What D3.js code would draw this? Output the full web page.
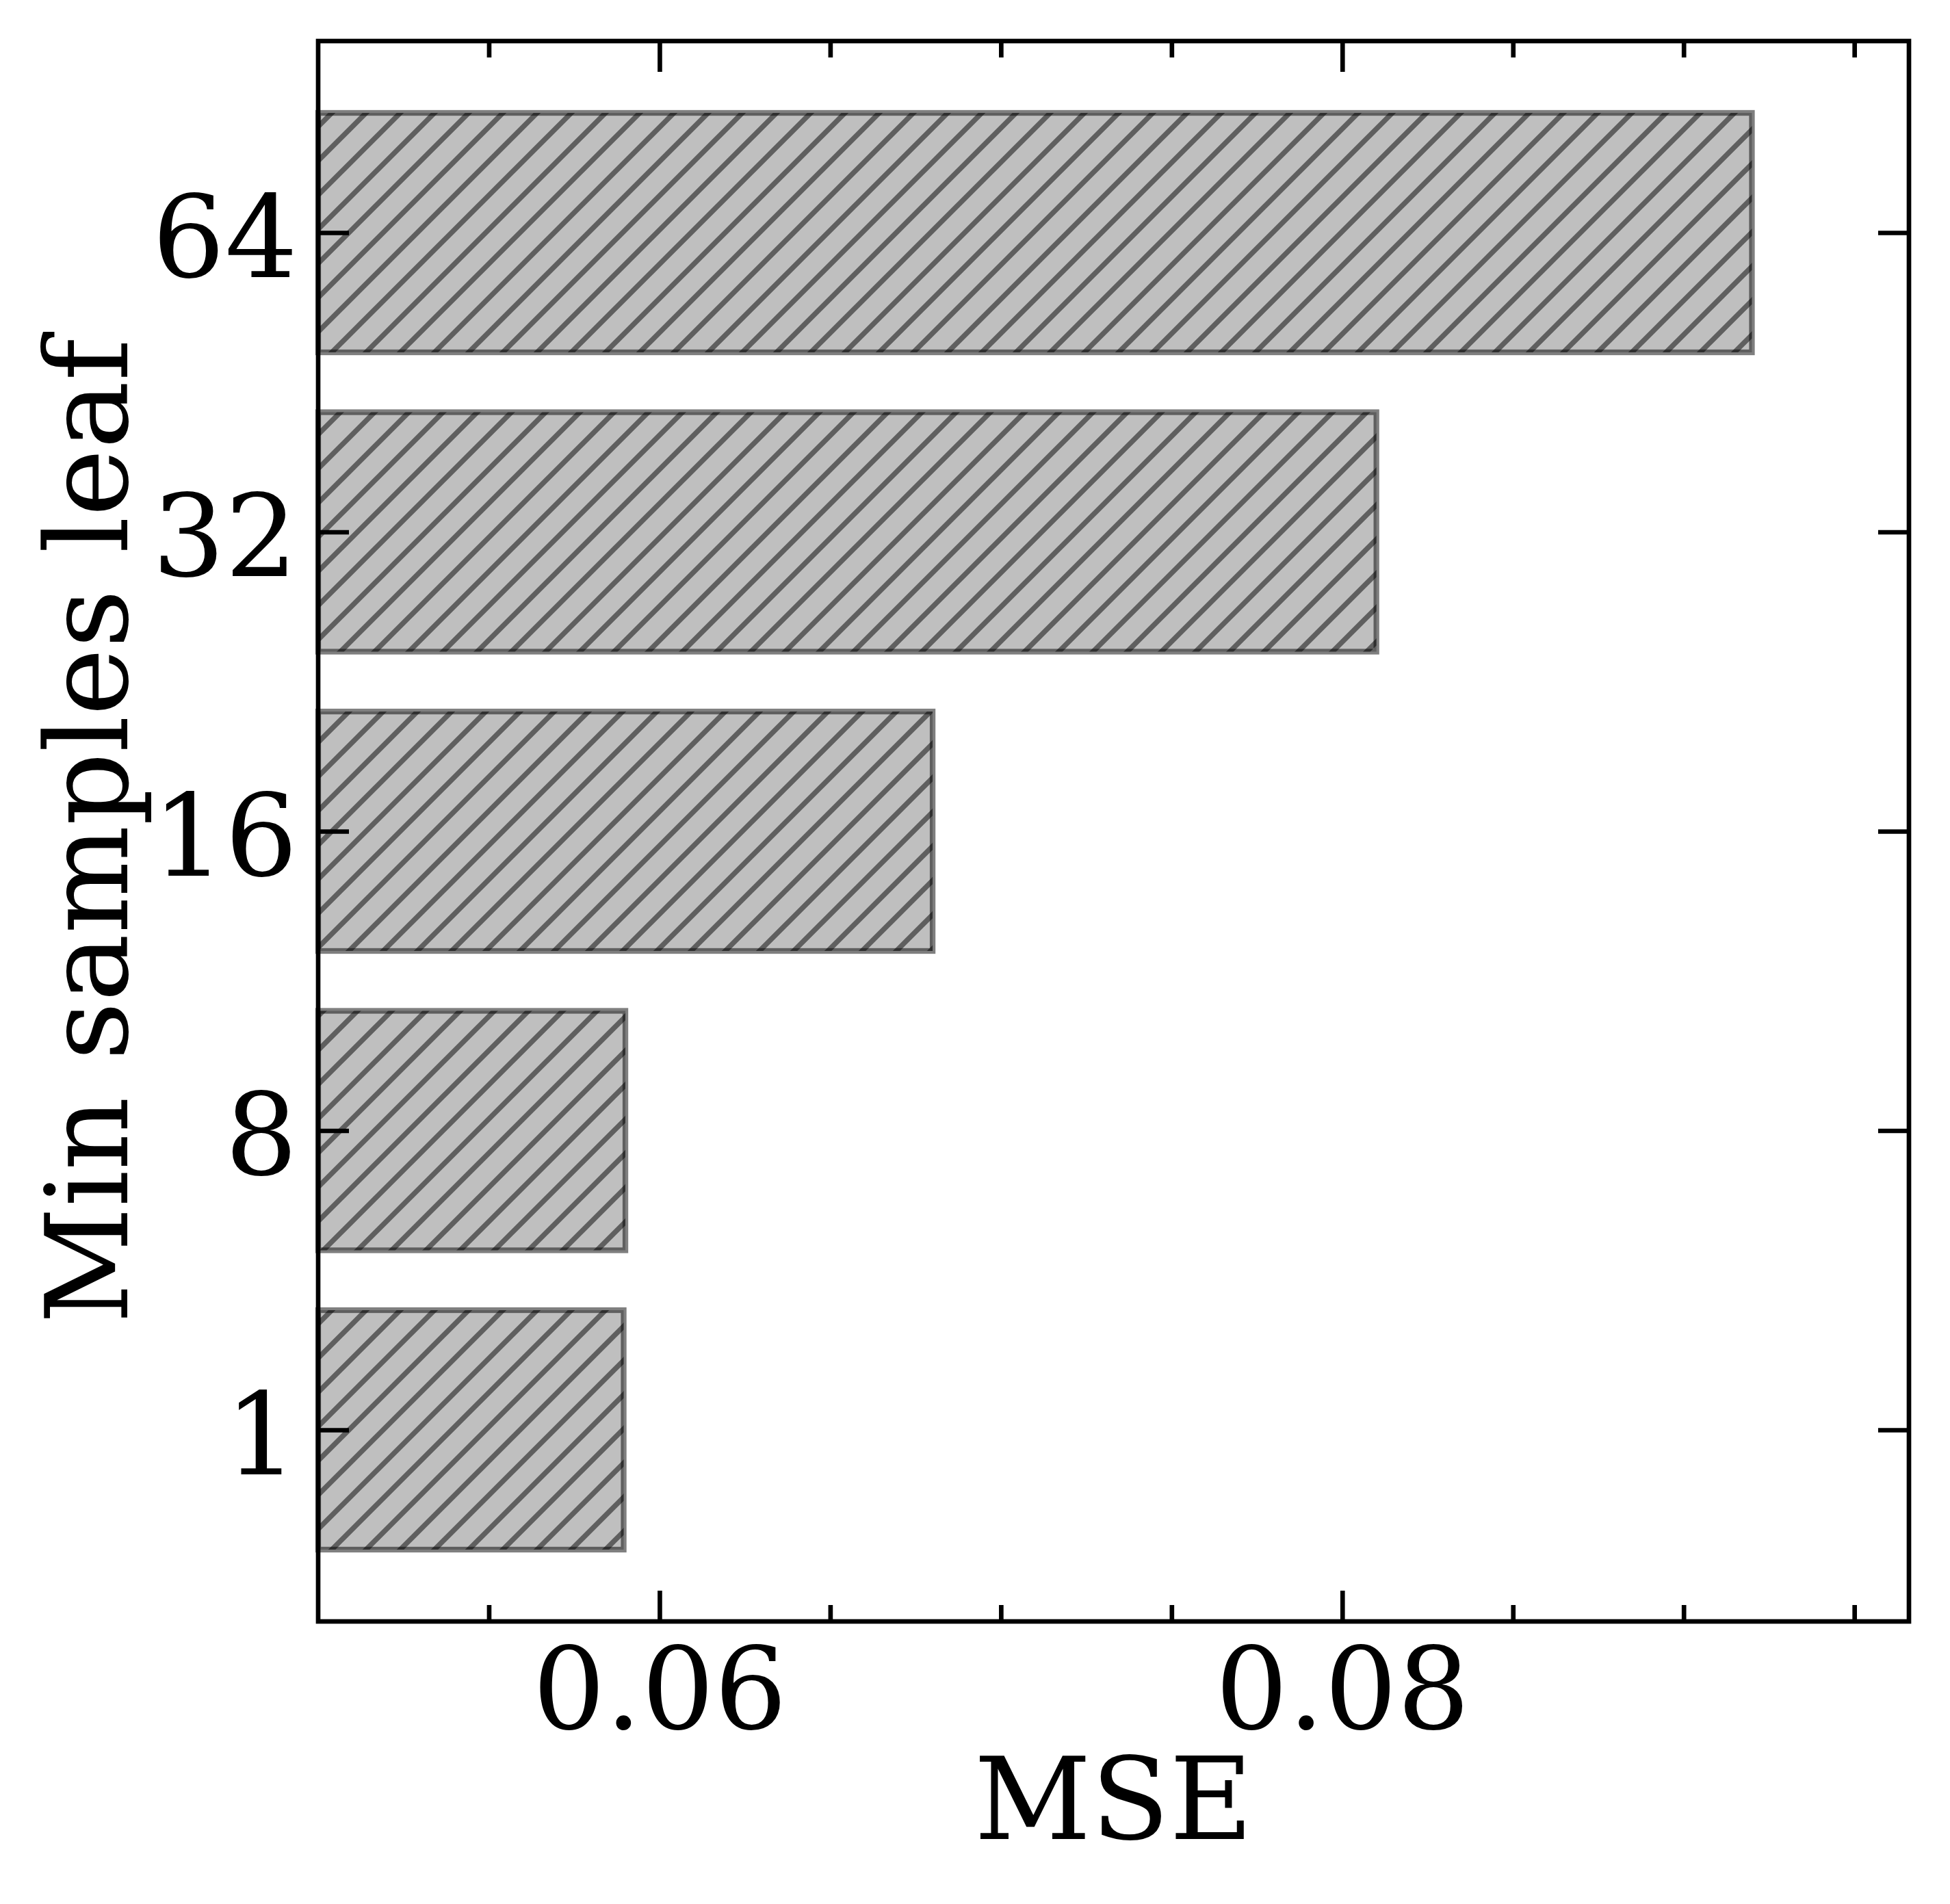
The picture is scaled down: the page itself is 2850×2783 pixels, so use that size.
<!DOCTYPE html>
<html>
<head>
<meta charset="utf-8">
<script src="https://cdn.jsdelivr.net/npm/d3@7"></script>
<style>
  html, body { margin: 0; padding: 0; background: #ffffff; }
  svg { display: block; }
</style>
</head>
<body>
<svg id="chart" width="2850" height="2783"></svg>
<script>
// ---- data ----
const categories = ["1", "8", "16", "32", "64"];
const mseValues = [0.05895, 0.0590, 0.0680, 0.0810, 0.0920];
const xMajorTicks = [0.06, 0.08];
const xMinorTicks = [0.055, 0.065, 0.07, 0.075, 0.085, 0.09, 0.095];
const xDomain = [0.05, 0.0966];
const xLabel = "MSE";
const yLabel = "Min samples leaf";

// ---- layout ----
const W = 2850, H = 2783;
const pLeft = 465, pRight = 2790, pTop = 60, pBottom = 2370;
const fontFamily = "'DejaVu Serif', serif";
const fontSize = 167;
const spineW = 6.67;
const majorLen = 45, minorLen = 24;

const svg = d3.select("#chart");
svg.append("rect").attr("width", W).attr("height", H).attr("fill", "#ffffff");

const x = d3.scaleLinear().domain(xDomain).range([pLeft, pRight]);
const y = d3.scaleLinear().domain([-0.64, categories.length - 1 + 0.64]).range([pBottom, pTop]);
const barH = y(0) - y(0.8);

// hatch pattern "//" (anchored to page origin)
const defs = svg.append("defs");
const pat = defs.append("pattern")
  .attr("id", "hatch")
  .attr("patternUnits", "userSpaceOnUse")
  .attr("width", 50).attr("height", 50);
pat.append("path")
  .attr("d", "M-10,60 L60,-10 M-10,10 L10,-10 M40,60 L60,40")
  .attr("stroke", "#000").attr("stroke-opacity", 0.5)
  .attr("stroke-width", 7.5).attr("fill", "none");

const bars = svg.append("g").attr("class", "bars");
const idx = d3.range(categories.length);
// face
bars.selectAll("rect.face").data(idx).join("rect")
  .attr("class", "face")
  .attr("x", x(xDomain[0]))
  .attr("y", i => y(i) - barH / 2)
  .attr("width", i => x(mseValues[i]) - x(xDomain[0]))
  .attr("height", barH)
  .attr("fill", "#808080").attr("fill-opacity", 0.5);
// hatch
bars.selectAll("rect.hatch").data(idx).join("rect")
  .attr("class", "hatch")
  .attr("x", x(xDomain[0]))
  .attr("y", i => y(i) - barH / 2)
  .attr("width", i => x(mseValues[i]) - x(xDomain[0]))
  .attr("height", barH)
  .attr("fill", "url(#hatch)");
// edge
bars.selectAll("rect.edge").data(idx).join("rect")
  .attr("class", "edge")
  .attr("x", x(xDomain[0]))
  .attr("y", i => y(i) - barH / 2)
  .attr("width", i => x(mseValues[i]) - x(xDomain[0]))
  .attr("height", barH)
  .attr("fill", "none")
  .attr("stroke", "#000").attr("stroke-opacity", 0.5)
  .attr("stroke-width", 8.3);

function styleAxis(g) {
  g.select(".domain").remove();
  g.selectAll(".tick line").attr("stroke", "#000").attr("stroke-width", spineW);
  g.selectAll(".tick text")
    .attr("fill", "#000")
    .style("font-family", fontFamily)
    .style("font-size", fontSize + "px");
}

// bottom axis (major with labels)
svg.append("g").attr("transform", `translate(0,${pBottom})`)
  .call(d3.axisBottom(x).tickValues(xMajorTicks).tickSizeInner(-majorLen).tickSizeOuter(0)
    .tickPadding(38).tickFormat(d3.format(".2f")))
  .call(styleAxis)
  .call(g => g.selectAll(".tick text").attr("y", 38).attr("dy", "0.71em"));
// bottom minor
svg.append("g").attr("transform", `translate(0,${pBottom})`)
  .call(d3.axisBottom(x).tickValues(xMinorTicks).tickSizeInner(-minorLen).tickSizeOuter(0).tickFormat(""))
  .call(styleAxis);
// top major + minor
svg.append("g").attr("transform", `translate(0,${pTop})`)
  .call(d3.axisTop(x).tickValues(xMajorTicks).tickSizeInner(-majorLen).tickSizeOuter(0).tickFormat(""))
  .call(styleAxis);
svg.append("g").attr("transform", `translate(0,${pTop})`)
  .call(d3.axisTop(x).tickValues(xMinorTicks).tickSizeInner(-minorLen).tickSizeOuter(0).tickFormat(""))
  .call(styleAxis);
// left axis
svg.append("g").attr("transform", `translate(${pLeft},0)`)
  .call(d3.axisLeft(y).tickValues(idx).tickFormat(i => categories[i])
    .tickSizeInner(-majorLen).tickSizeOuter(0).tickPadding(33))
  .call(styleAxis)
  .call(g => g.selectAll(".tick text").attr("x", -30).attr("dy", "0.385em"));
// right axis
svg.append("g").attr("transform", `translate(${pRight},0)`)
  .call(d3.axisRight(y).tickValues(idx).tickSizeInner(-majorLen).tickSizeOuter(0).tickFormat(""))
  .call(styleAxis);

// spines
svg.append("rect")
  .attr("x", pLeft).attr("y", pTop)
  .attr("width", pRight - pLeft).attr("height", pBottom - pTop)
  .attr("fill", "none").attr("stroke", "#000").attr("stroke-width", spineW)
  .attr("stroke-linecap", "square");

// axis labels
svg.append("text")
  .attr("x", (pLeft + pRight) / 2).attr("y", 2688)
  .attr("text-anchor", "middle")
  .style("font-family", fontFamily).style("font-size", fontSize + "px")
  .attr("fill", "#000")
  .text(xLabel);

svg.append("text")
  .attr("transform", `translate(186,${(pTop + pBottom) / 2}) rotate(-90)`)
  .attr("text-anchor", "middle")
  .style("font-family", fontFamily).style("font-size", fontSize + "px")
  .attr("fill", "#000")
  .text(yLabel);
</script>
</body>
</html>
